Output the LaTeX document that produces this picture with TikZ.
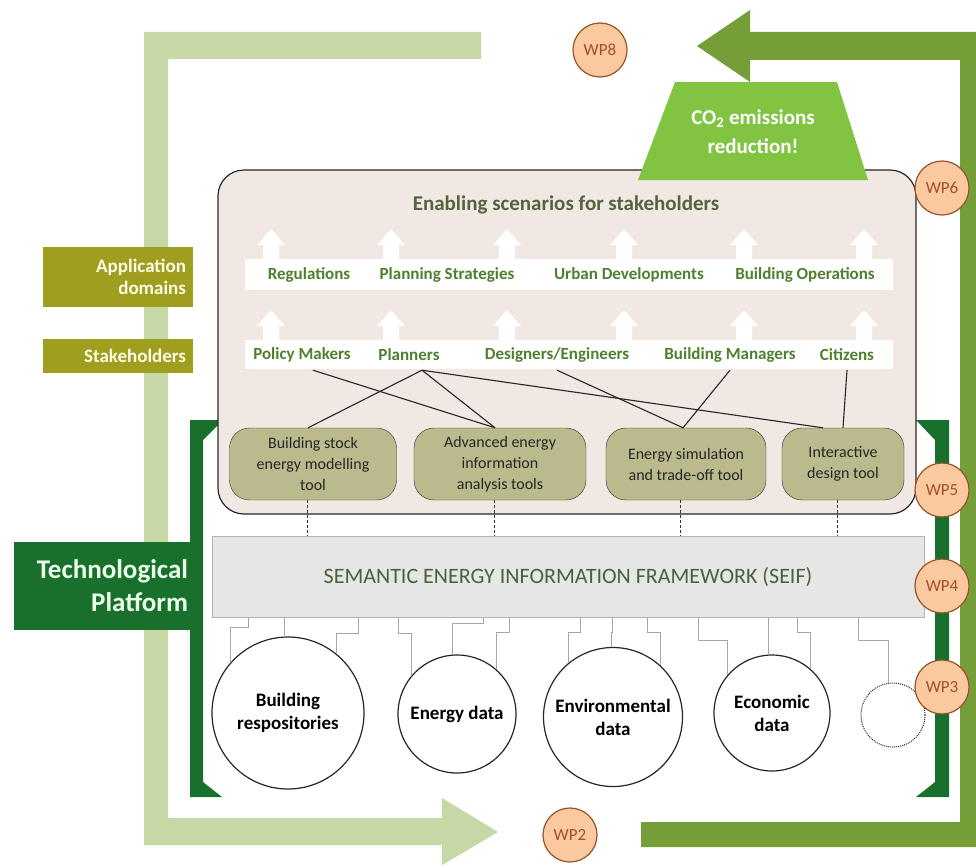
\documentclass[tikz,border=0pt]{standalone}
\usepackage{fontspec}
\setmainfont{Carlito}
\usetikzlibrary{shapes.geometric}
\definecolor{lightleaf}{RGB}{197,216,166}
\definecolor{oliveloop}{RGB}{118,158,56}
\definecolor{platgreen}{RGB}{24,112,44}
\definecolor{co2green}{RGB}{128,196,66}
\definecolor{domainolive}{RGB}{160,158,30}
\definecolor{scenfill}{RGB}{241,231,227}
\definecolor{toolfill}{RGB}{186,186,140}
\definecolor{wpfill}{RGB}{250,201,160}
\definecolor{wpedge}{RGB}{150,82,40}
\definecolor{wptext}{RGB}{160,80,40}
\definecolor{seiffill}{RGB}{230,230,230}
\definecolor{labelgreen}{RGB}{78,128,46}
\definecolor{titlegreen}{RGB}{84,100,60}
\definecolor{seiftext}{RGB}{70,100,60}

\begin{document}
\begin{tikzpicture}[x=1pt, y=-1pt,
  stake/.style={font=\bfseries\fontsize{17}{20}\selectfont, text=labelgreen, minimum height=30, inner sep=0pt},
  tool/.style={draw=black!80, fill=toolfill, rounded corners=20, minimum height=72, align=center,
    font=\fontsize{16}{21}\selectfont, text=black!85, inner sep=2pt},
  datacirc/.style={circle, draw=black!85, line width=1.2, fill=white, align=center,
    font=\bfseries\fontsize{19}{23}\selectfont, inner sep=0pt},
  wp/.style={circle, draw=wpedge, line width=1.2, fill=wpfill, text=wptext, minimum size=54,
    font=\fontsize{17}{19}\selectfont, inner sep=0pt},
  domainbox/.style={fill=domainolive, text=white!90!yellow, font=\bfseries\fontsize{19}{22}\selectfont,
    text width=136, align=right, inner xsep=7, inner ysep=0},
  link/.style={black!85, line width=1.1},
  feed/.style={black!35, line width=0.8},
  linkdot/.style={black!80, densely dashed, line width=0.8}]
\useasboundingbox (0,0) rectangle (976,867);
\fill[lightleaf] (144,32) -- (481,32) -- (481,59) -- (168,59) -- (168,818) -- (442,818) -- (442,798)
  -- (498,832) -- (442,865) -- (442,845) -- (144,845) -- cycle;
\fill[oliveloop] (641,822) -- (960,822) -- (960,60) -- (750,60) -- (750,82) -- (697,46) -- (750,10)
  -- (750,32) -- (976,32) -- (976,847) -- (641,847) -- cycle;
\fill[platgreen] (190,420) -- (223,420) -- (203,440) -- (203,782) -- (222,797) -- (190,797) -- cycle;
\fill[platgreen] (949,420) -- (916,420) -- (935,440) -- (935,782) -- (916,797) -- (949,797) -- cycle;
\node[domainbox, fill=platgreen, text=green!8, font=\bfseries\fontsize{27}{33}\selectfont,
  text width=170, inner xsep=4, minimum height=88] (plat) at (103,586) {Technological\\Platform};
\node[domainbox, minimum height=60] (appdom) at (118,277) {Application\\domains};
\node[domainbox, minimum height=34] (stakeh) at (118,356) {Stakeholders};

\draw[fill=scenfill, draw=black!85, line width=1.2, rounded corners=26] (218,170) rectangle (916,514);
\node[font=\bfseries\fontsize{21}{24}\selectfont, text=titlegreen] (title) at (566,205) {Enabling scenarios for stakeholders};
\fill[white] (245,259) rectangle (893,290);
\fill[white] (245,340) rectangle (893,369);
\foreach \y in {259,340}
  \foreach \x in {271,391,507,624,744,864}
    \fill[white] (\x,\y) ++(-8,0) -- ++(0,-14) -- ++(-6,0) -- ++(14,-16) -- ++(14,16) -- ++(-6,0) -- ++(0,14) -- cycle;
\node[stake] (regs) at (309,275) {Regulations};
\node[stake] (plans) at (447,275) {Planning Strategies};
\node[stake] (urban) at (629,275) {Urban Developments};
\node[stake] (bops) at (805,275) {Building Operations};
\node[stake] (pm) at (302,355) {Policy Makers};
\node[stake] (pl) at (409,355) {Planners};
\node[stake] (de) at (557,355) {Designers/Engineers};
\node[stake] (bm) at (730,355) {Building Managers};
\node[stake] (ci) at (847,355) {Citizens};

\node[tool, minimum width=167] (tstock) at (313,464) {Building stock\\energy modelling\\tool};
\node[tool, minimum width=172] (tanal) at (500,464) {Advanced energy\\information\\analysis tools};
\node[tool, minimum width=160] (tsim) at (686,464) {Energy simulation\\and trade-off tool};
\node[tool, minimum width=122] (tdes) at (843,464) {Interactive\\design tool};
\draw[link] ([xshift=11]pm.south) -- ([xshift=-5]tanal.north);
\draw[link] ([xshift=13]pl.south) -- ([xshift=-5]tstock.north);
\draw[link] ([xshift=13]pl.south) -- ([xshift=-5]tanal.north);
\draw[link] ([xshift=13]pl.south) -- ([xshift=-20]tdes.north);
\draw[link] (de.south) -- ([xshift=-3]tsim.north);
\draw[link] (bm.south) -- ([xshift=-3]tsim.north);
\draw[link] (ci.south) -- (tdes.north);

\fill[co2green] (675,82) -- (837,82) -- (868,180) -- (638,180) -- cycle;
\node[text=white, align=center, font=\bfseries\fontsize{21}{29}\selectfont] (co2) at (753,132)
  {CO\textsubscript{2} emissions\\reduction!};

\node[draw=black!30, fill=seiffill, minimum width=712, minimum height=81, text=seiftext,
  font=\fontsize{22}{26}\selectfont] (seif) at (568,577) {SEMANTIC ENERGY INFORMATION FRAMEWORK (SEIF)};
\foreach \t in {tstock,tanal,tsim,tdes}
  \draw[linkdot] ([xshift=-6]\t.south) -- ([xshift=-6]\t.south |- seif.north);

\node[datacirc, minimum size=152] (brep) at (288,713) {Building\\respositories};
\node[datacirc, minimum size=118] (edat) at (457,714) {Energy data};
\node[datacirc, minimum size=139] (env) at (613,717) {Environmental\\data};
\node[datacirc, minimum size=116] (econ) at (772,713) {Economic\\data};
\node[circle, draw=black!85, densely dotted, line width=1, minimum size=64] (dcirc) at (893,715) {};
\foreach \xa/\ym/\n/\a in {248/627/brep/139, 284/627/brep/93, 358/633/brep/51,
    398/633/edat/140, 483/623/edat/94, 509/632/edat/49,
    580/632/env/130, 612/632/env/91, 647/632/env/48,
    698/640/econ/139, 768/640/econ/94, 797/632/econ/49, 858/640/dcirc/99}
  \draw[feed] (seif.south -| \xa,0) -- (\xa,\ym) -| (\n.\a);

\node[wp] (wp8) at (600,50) {WP8};
\node[wp] (wp6) at (942,188) {WP6};
\node[wp] (wp5) at (942,490) {WP5};
\node[wp] (wp4) at (942,586) {WP4};
\node[wp] (wp3) at (942,687) {WP3};
\node[wp] (wp2) at (570,835) {WP2};
\end{tikzpicture}
\end{document}
